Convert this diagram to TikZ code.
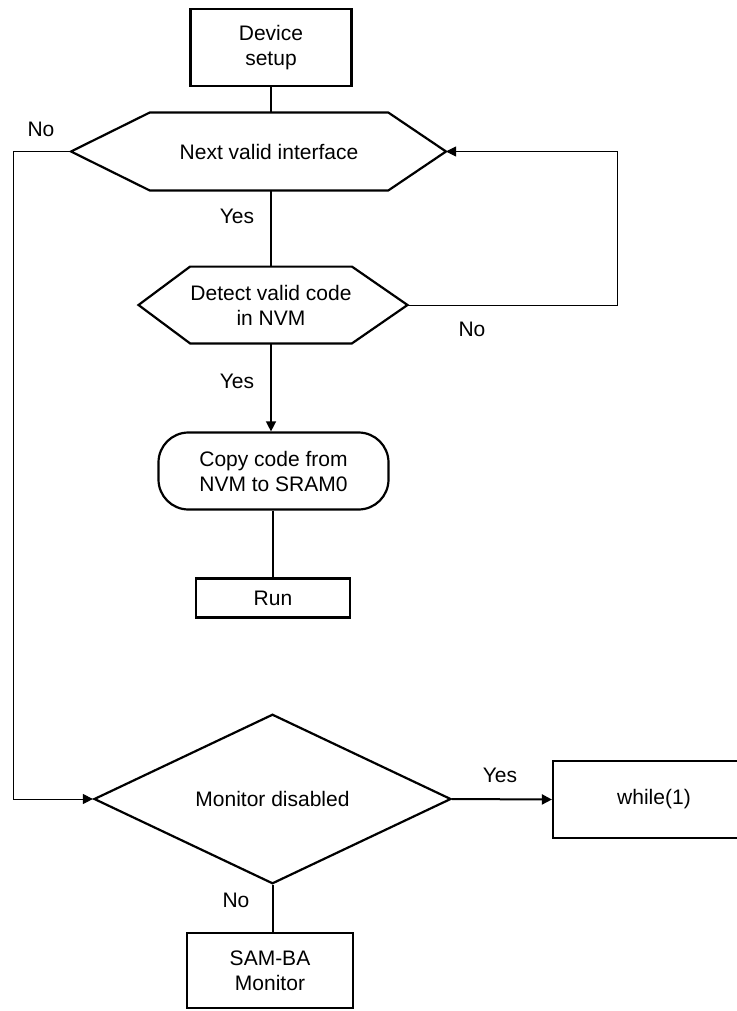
\documentclass[tikz,border=0pt]{standalone}
\usepackage{amsmath}
\usepackage{fontspec}
\setmainfont{Liberation Sans}
\usetikzlibrary{shapes.geometric,arrows.meta}

\begin{document}
\begin{tikzpicture}[x=0.5pt,y=-0.5pt,
    font=\fontsize{10.5}{12.5}\selectfont,
    box/.style={draw,line width=1.1pt,align=center,inner sep=0pt},
    hexline/.style={line width=1.1pt,line join=miter},
    line/.style={line width=0.7pt},
    thinline/.style={line width=0.5pt},
    arr/.style={-{Triangle[length=5pt,width=5pt]}}]
    \useasboundingbox (0,0) rectangle (736,1011);
    \node[box,minimum width=80.5pt,minimum height=38.5pt] (dev) at (271,47.5) {Device\\setup};
    \node[align=center,inner sep=0pt,minimum width=119pt,minimum height=38.5pt] (nvi) at (269,151.5) {Next valid interface};
    \coordinate (nviL) at (71,151.5);
    \coordinate (nviR) at (446,151.5);
    \draw[hexline] (nvi.north west) -- (nvi.north east) -- (nviR) -- (nvi.south east) -- (nvi.south west) -- (nviL) -- cycle;
    \node[align=center,inner sep=0pt,minimum width=80.5pt,minimum height=38pt] (dnv) at (271,305) {Detect valid code\\in NVM};
    \coordinate (dnvL) at (138.5,305);
    \coordinate (dnvR) at (407.5,305);
    \draw[hexline] (dnv.north west) -- (dnv.north east) -- (dnvR) -- (dnv.south east) -- (dnv.south west) -- (dnvL) -- cycle;
    \node[box,rounded corners=15pt,minimum width=115pt,minimum height=38.5pt] (copy) at (273.5,471) {Copy code from\\NVM to SRAM0};
    \node[box,minimum width=77pt,minimum height=19.5pt] (run) at (273,598) {Run};
    \node[draw,diamond,line width=1.1pt,inner sep=0pt,minimum width=178.5pt,minimum height=81pt] (mon) at (272.5,799) {Monitor disabled};
    \node[box,minimum width=101pt,minimum height=38.5pt] (wh) at (654,799.5) {while(1)};
    \node[box,minimum width=83pt,minimum height=37.5pt] (sam) at (270,970.5) {SAM-BA\\Monitor};
    \coordinate (lft) at (13,0);
    \coordinate (rgt) at (617,0);
    \draw[line] (dev.south) -- (dev.south |- nvi.north);
    \draw[line] (dnv.north |- nvi.south) -- (dnv.north);
    \draw[line,arr] (dnv.south) -- (dnv.south |- copy.north);
    \draw[line] (run.north |- copy.south) -- (run.north);
    \draw[thinline,arr] (nviL) -- (nviL -| lft) |- (mon.west);
    \draw[thinline,arr] (dnvR) -- (dnvR -| rgt) |- (nviR);
    \draw[line width=1pt,arr] (mon.east) -- (wh.west);
    \draw[line width=1pt] (mon.south) -- (mon.south |- sam.north);
    \node (no1) at (41,129) {No};
    \node (yes1) at (237,216) {Yes};
    \node (no2) at (472,329) {No};
    \node (yes2) at (237,381) {Yes};
    \node (yes3) at (500,775) {Yes};
    \node (no3) at (236,900) {No};
\end{tikzpicture}
\end{document}
